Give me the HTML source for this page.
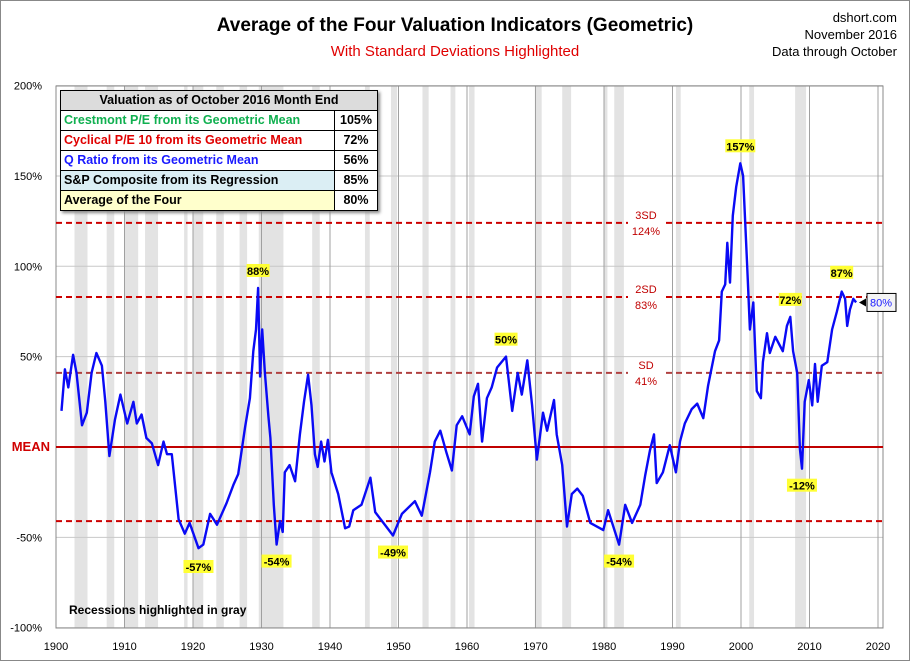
<!DOCTYPE html>
<html><head><meta charset="utf-8"><style>
body{margin:0;background:#fff;}
#wrap{position:relative;width:910px;height:661px;overflow:hidden;font-family:"Liberation Sans",sans-serif;}
svg text{font-family:"Liberation Sans",sans-serif;}
</style></head><body>
<div id="wrap">
<svg id="chart" width="910" height="661">
<rect x="0.5" y="0.5" width="909" height="660" fill="#fff" stroke="#888"/>
<text x="455" y="31" text-anchor="middle" font-size="19" font-weight="bold" fill="#000">Average of the Four Valuation Indicators (Geometric)</text>
<text x="455" y="56" text-anchor="middle" font-size="15" fill="#e00000">With Standard Deviations Highlighted</text>
<text x="897" y="22" text-anchor="end" font-size="13" fill="#000">dshort.com</text>
<text x="897" y="39" text-anchor="end" font-size="13" fill="#000">November 2016</text>
<text x="897" y="56" text-anchor="end" font-size="13" fill="#000">Data through October</text>
<g id="bands"></g><g id="grid"></g><g id="lines"></g><g id="series"></g><g id="annot"></g>
</svg>
<div style="position:absolute;left:60px;top:90px;width:316px;border:1px solid #000;box-shadow:2px 2px 3px #888;font-size:12.5px;font-weight:bold;background:#fff;">
<div style="height:19px;line-height:19px;text-align:center;background:#dcdcdc;border-bottom:1px solid #000;">Valuation as of October 2016 Month End</div>
<div style="display:flex;height:19px;line-height:19px;border-bottom:1px solid #000;"><span style="flex:1;padding-left:3px;color:#10b050;border-right:1px solid #000">Crestmont P/E from its Geometric Mean</span><span style="width:42px;text-align:center">105%</span></div>
<div style="display:flex;height:19px;line-height:19px;border-bottom:1px solid #000;"><span style="flex:1;padding-left:3px;color:#e00000;border-right:1px solid #000">Cyclical P/E 10 from its Geometric Mean</span><span style="width:42px;text-align:center">72%</span></div>
<div style="display:flex;height:19px;line-height:19px;border-bottom:1px solid #000;"><span style="flex:1;padding-left:3px;color:#1a1aff;border-right:1px solid #000">Q Ratio from its Geometric Mean</span><span style="width:42px;text-align:center">56%</span></div>
<div style="display:flex;height:19px;line-height:19px;border-bottom:1px solid #000;"><span style="flex:1;padding-left:3px;background:#dbeef4;border-right:1px solid #000">S&amp;P Composite from its Regression</span><span style="width:42px;text-align:center">85%</span></div>
<div style="display:flex;height:19px;line-height:19px;"><span style="flex:1;padding-left:3px;background:#ffffcc;border-right:1px solid #000">Average of the Four</span><span style="width:42px;text-align:center;background:#fff">80%</span></div>
</div>
</div>
<script>
const years=[1900.8,1901.3,1901.8,1902.5,1903.0,1903.8,1904.5,1905.2,1905.9,1906.7,1907.2,1907.8,1908.6,1909.4,1910.4,1911.3,1911.8,1912.5,1913.2,1914.0,1914.9,1915.7,1916.2,1916.9,1917.9,1918.8,1919.5,1920.8,1921.5,1922.5,1923.5,1924.9,1925.9,1926.6,1927.6,1928.3,1928.8,1929.2,1929.5,1929.8,1930.1,1930.5,1931.0,1931.3,1931.8,1932.2,1932.7,1933.1,1933.4,1934.1,1934.9,1935.6,1936.2,1936.8,1937.3,1937.8,1938.2,1938.7,1939.2,1939.7,1940.2,1941.2,1942.2,1942.8,1943.4,1944.6,1945.9,1946.6,1947.8,1949.2,1950.5,1952.4,1953.4,1954.6,1955.3,1956.1,1957.0,1957.8,1958.5,1959.3,1960.4,1961.0,1961.6,1962.2,1962.9,1963.6,1964.4,1965.7,1966.6,1967.4,1968.0,1968.8,1969.5,1970.2,1971.1,1971.7,1972.7,1973.1,1973.9,1974.6,1975.3,1976.1,1976.9,1978.0,1979.9,1980.6,1982.2,1983.1,1984.1,1985.3,1986.0,1986.7,1987.3,1987.7,1988.6,1989.6,1990.5,1991.1,1991.8,1992.8,1993.6,1994.5,1995.2,1996.2,1996.8,1997.2,1997.7,1998.0,1998.4,1998.8,1999.3,1999.9,2000.3,2000.9,2001.3,2001.8,2002.3,2002.9,2003.2,2003.8,2004.2,2005.0,2006.1,2006.7,2007.2,2007.6,2008.2,2008.6,2008.9,2009.3,2009.9,2010.4,2010.8,2011.2,2011.8,2012.6,2013.3,2014.0,2014.7,2015.2,2015.5,2015.9,2016.4,2016.8];
const values=[20,43,33,51,41,12,19,41,52,45,25,-5,15,29,13,25,13,18,5,2,-10,3,-4,-4,-40,-48,-42,-56,-54,-37,-43,-31,-21,-15,11,27,53,65,88,39,65,41,17,5,-32,-54,-41,-47,-14,-10,-19,7,25,40,23,-4,-11,3,-8,4,-14,-26,-45,-44,-35,-32,-17,-36,-42,-49,-37,-30,-38,-14,3,9,-3,-13,12,17,7,28,35,3,27,33,44,50,20,41,29,48,23,-7,19,9,26,7,-10,-44,-26,-23,-27,-42,-46,-35,-54,-32,-42,-32,-16,-2,7,-20,-14,1,-14,3,13,21,24,16,34,53,59,86,90,113,91,128,144,157,150,100,65,80,31,27,47,63,52,61,53,67,72,53,41,-1,-12,25,37,23,46,25,45,47,65,75,86,82,67,76,82,80];
const recessions=[[1902.7,1904.6],[1907.4,1908.5],[1910.0,1912.0],[1913.0,1914.9],[1918.7,1919.2],[1920.0,1921.5],[1923.4,1924.5],[1926.8,1927.9],[1929.6,1933.2],[1937.4,1938.5],[1945.1,1945.8],[1948.9,1949.8],[1953.5,1954.4],[1957.6,1958.3],[1960.3,1961.1],[1969.9,1970.9],[1973.9,1975.2],[1980.0,1980.5],[1981.5,1982.9],[1990.5,1991.2],[2001.2,2001.9],[2007.9,2009.5]];
const xTicks=[1900,1910,1920,1930,1940,1950,1960,1970,1980,1990,2000,2010,2020];
const yTicks=[200,150,100,50,0,-50,-100];
const yTickLabels=["200%","150%","100%","50%","MEAN","-50%","-100%"];
const sdLevels=[124,83,41,-41];
const sdLabels=[["3SD","124%"],["2SD","83%"],["SD","41%"],null];
const peakYears=[1920.8,1929.5,1932.2,1949.2,1965.7,1982.2,1999.9,2007.2,2008.9,2014.7];
const peakValues=[-57,88,-54,-49,50,-54,157,72,-12,87];
const latestValue=80;

const NS="http://www.w3.org/2000/svg";
const X0=56,X1=883,YT=86,YB=628;
const xs=y=>56+(y-1900)*6.85;
const ys=v=>447-v*1.807;
function mk(tag,attrs,parent,text){const e=document.createElementNS(NS,tag);for(const k in attrs)e.setAttribute(k,attrs[k]);if(text!==undefined)e.textContent=text;parent.appendChild(e);return e;}
const gB=document.getElementById('bands'),gG=document.getElementById('grid'),gL=document.getElementById('lines'),gS=document.getElementById('series'),gA=document.getElementById('annot');
recessions.forEach(r=>{const e=mk('rect',{x:xs(r[0]),y:YT,width:xs(r[1])-xs(r[0]),height:YB-YT,fill:'#e3e3e3'},gB);

});
yTicks.forEach((t,i)=>{if(t!==0){const l=mk('line',{x1:X0,x2:X1,y1:ys(t),y2:ys(t),stroke:'#c8c8c8','stroke-width':1},gG);

}
const tx=mk('text',{x:t===0?50:42,y:ys(t)+4,'text-anchor':'end','font-size':t===0?13:11,'font-weight':t===0?'bold':'normal',fill:t===0?'#d00000':'#000'},gG,yTickLabels[i]);

});
xTicks.forEach(t=>{const l=mk('line',{x1:xs(t),x2:xs(t),y1:YT,y2:YB,stroke:'#a0a0a0','stroke-width':1},gG);


const tx=mk('text',{x:xs(t),y:650,'text-anchor':'middle','font-size':11,fill:'#000'},gG,String(t));

});
const ax=mk('rect',{x:X0,y:YT,width:X1-X0,height:YB-YT,fill:'none',stroke:'#888'},gG);


const mean=mk('line',{x1:X0,x2:X1,y1:ys(0),y2:ys(0),stroke:'#c00000','stroke-width':2},gL);


sdLevels.forEach((s,i)=>{const l=mk('line',{x1:X0,x2:X1,y1:ys(s),y2:ys(s),stroke:s===41?'#b04040':'#cc0000','stroke-width':2,'stroke-dasharray':'6,4'},gL);


if(sdLabels[i]){const cy=ys(s);mk('rect',{x:628,y:cy-13,width:34,height:30,fill:'#fff'},gL);
const t1=mk('text',{x:646,y:cy-4,'text-anchor':'middle','font-size':11,fill:'#c00000'},gL,sdLabels[i][0]);


const t2=mk('text',{x:646,y:cy+12,'text-anchor':'middle','font-size':11,fill:'#c00000'},gL,sdLabels[i][1]);

}});
const pts=years.map((y,i)=>xs(y).toFixed(1)+','+ys(values[i]).toFixed(1)).join(' ');
const pl=mk('polyline',{points:pts,fill:'none',stroke:'#0a0af5','stroke-width':2.4,'stroke-linejoin':'round'},gS);


peakYears.forEach((y,i)=>{const v=peakValues[i];const above=v>0&&!(v===72);const cx=xs(y);const cy=v>0?ys(v)-14:ys(v)+20;
const lbl=v+'%';const w=lbl.length*7+2;
const r=mk('rect',{x:cx-w/2,y:cy-10,width:w,height:13,fill:'#ffff33'},gA);


const t=mk('text',{x:cx,y:cy+1,'text-anchor':'middle','font-size':11,'font-weight':'bold',fill:'#000'},gA,lbl);

});
const ly=ys(latestValue);
const arrow=mk('polygon',{points:`859,${ly} 866,${ly-4} 866,${ly+4}`,fill:'#000'},gA);


const lb=mk('rect',{x:867,y:ly-9,width:29,height:18,fill:'#f4f4f4',stroke:'#000'},gA);


const lt=mk('text',{x:881,y:ly+4,'text-anchor':'middle','font-size':11,fill:'#1a1aff'},gA,latestValue+'%');


const rn=mk('text',{x:69,y:614,'font-size':12,'font-weight':'bold',fill:'#000'},gA,'Recessions highlighted in gray');


</script>
</body></html>
